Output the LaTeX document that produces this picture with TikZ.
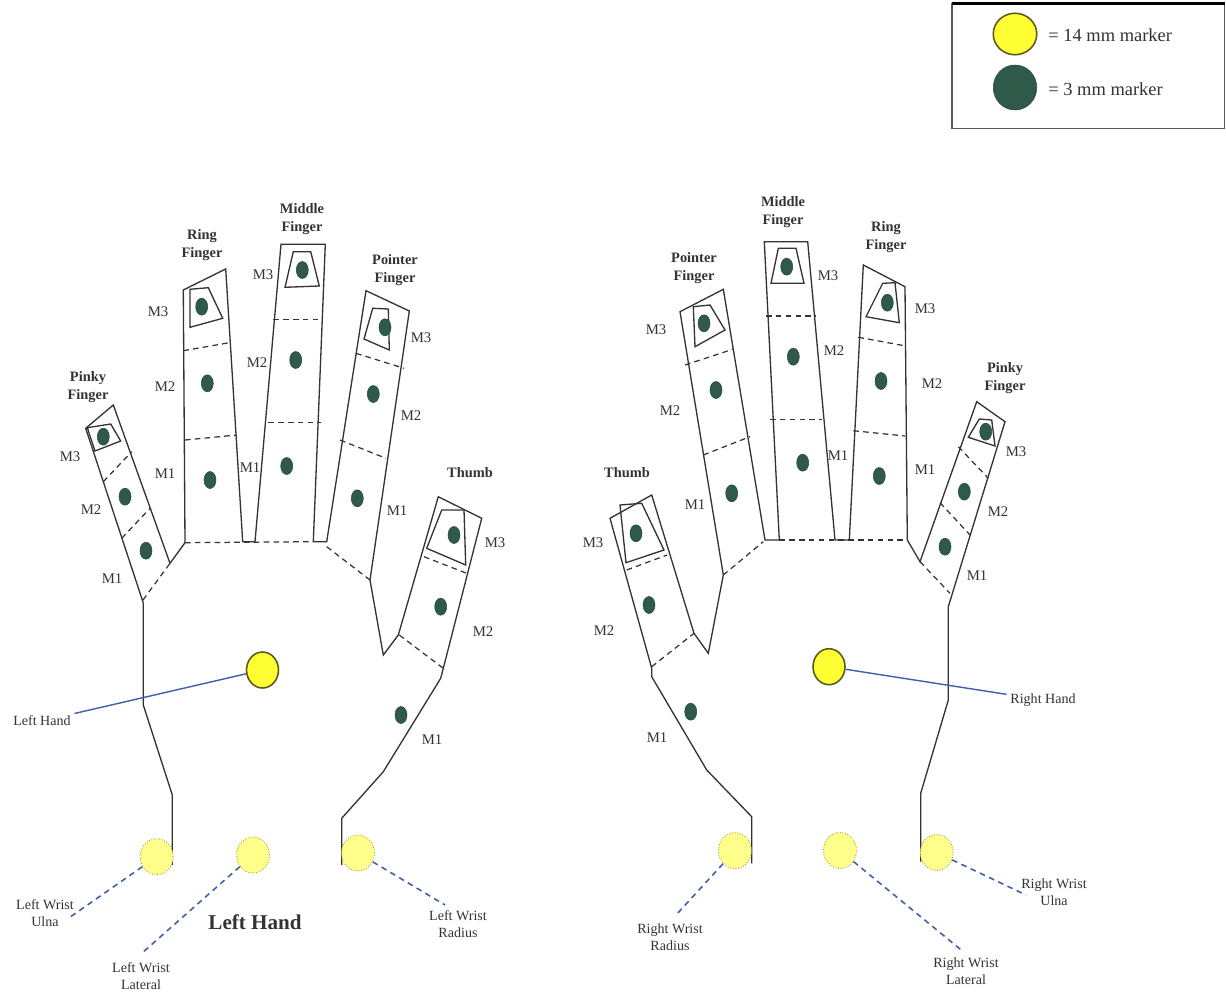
\documentclass[tikz,border=0pt]{standalone}
\usepackage{fontspec}
\setmainfont{Liberation Serif}
\usetikzlibrary{shapes.geometric}
\definecolor{bigyellow}{HTML}{FFFF33}
\definecolor{bigrim}{HTML}{5C5A1E}
\definecolor{paleyellow}{HTML}{FFFF8C}
\definecolor{dotrim}{HTML}{A8962E}
\definecolor{markgreen}{HTML}{2F5A4A}
\definecolor{linkblue}{HTML}{3F60A8}
\definecolor{inkgray}{HTML}{333333}
\tikzset{
  outline/.style={draw=inkgray, line width=0.75pt, line join=miter},
  seg/.style={draw=inkgray, line width=0.7pt, dash pattern=on 3.2pt off 2.4pt},
  dot/.style={ellipse, minimum width=0.24cm, minimum height=0.34cm, inner sep=0pt,
    fill=markgreen, draw=markgreen!80!black, line width=0.3pt},
  bigmark/.style={ellipse, minimum width=0.64cm, minimum height=0.72cm, inner sep=0pt,
    fill=bigyellow, draw=bigrim, line width=0.9pt},
  wristmark/.style={ellipse, minimum width=0.66cm, minimum height=0.72cm, inner sep=0pt,
    fill=paleyellow, draw=dotrim, densely dotted, line width=0.5pt},
  seglabel/.style={font=\fontsize{8.4}{9.6}\selectfont, text=inkgray, inner sep=1pt},
  fingerlabel/.style={font=\bfseries\fontsize{8.2}{10.2}\selectfont, text=inkgray,
    align=center, inner sep=1pt},
  sitelabel/.style={font=\fontsize{8}{9.6}\selectfont, text=inkgray, align=center, inner sep=2pt},
  solidlink/.style={draw=linkblue, line width=0.8pt},
  dashlink/.style={draw=linkblue, line width=0.9pt, dash pattern=on 3.2pt off 2.6pt},
  legendtext/.style={font=\fontsize{10.5}{12}\selectfont, text=inkgray, anchor=west, inner sep=0pt}
}
\begin{document}
\begin{tikzpicture}[x=0.02cm, y=-0.02cm]
\useasboundingbox (0,0) rectangle (1226,997);
\fill[white] (0,0) rectangle (1226,997);

% ---------- legend ----------
\draw[draw=gray!70!black, line width=0.9pt] (951.7,3.5) rectangle (1224.5,128.3);
\draw[black, line width=1.7pt] (951.7,3.5) -- (1224.5,3.5);
\node[bigmark, minimum width=0.87cm, minimum height=0.83cm] (legbig) at (1015,34) {};
\node[dot, minimum width=0.87cm, minimum height=0.9cm] (legsmall) at (1015,87.5) {};
\node[legendtext] (legbigtxt) at (1048,35) {= 14 mm marker};
\node[legendtext] (legsmalltxt) at (1048,89) {= 3 mm marker};

% ---------- left hand outline ----------
\draw[outline] (172.3,865) -- (172.3,795) -- (143.3,705) -- (143.3,603)
  -- (85.7,428.3) -- (113.3,405) -- (170,563.3) -- (185,542.7)
  -- (183.3,290) -- (225.7,269) -- (242.7,541.7) -- (255,541.7)
  -- (281,244.3) -- (325.3,244.3) -- (313.3,541.7) -- (326.7,541.7)
  -- (366,290.7) -- (409.3,311) -- (370,580) -- (383.3,655) -- (398.3,635)
  -- (438.3,496.7) -- (481.7,518.3) -- (443.3,668.3) -- (440.7,678.3)
  -- (383.3,771.7) -- (341.7,818.3) -- (341.7,865);
% marker cups at the finger tips
\draw[outline] (87.3,427.7) -- (110.7,424) -- (120.7,441) -- (95,451) -- cycle;
\draw[outline] (190,289.3) -- (208.3,287.7) -- (222.7,318.3) -- (190,327.3) -- cycle;
\draw[outline] (293.3,251.7) -- (310.7,251.7) -- (319.3,286) -- (285,287.3) -- cycle;
\draw[outline] (372.7,308.3) -- (388.3,309) -- (389.3,350) -- (364,339) -- cycle;
\draw[outline] (441.7,510) -- (464,510) -- (465.7,565) -- (426.7,548.3) -- cycle;
% joint lines
\draw[seg] (143,600) -- (170,563.3);
\draw[seg] (121.7,538.3) -- (150,508.3);
\draw[seg] (103.3,481.7) -- (131.7,451.7);
\draw[seg] (183.3,350.7) -- (231.7,342.3);
\draw[seg] (185,440) -- (236.7,435);
\draw[seg] (185,542.7) -- (313.3,541.7);
\draw[seg] (273.3,319.3) -- (323.3,319.3);
\draw[seg] (268.3,422.3) -- (320.7,422.3);
\draw[seg] (326.7,546.7) -- (370,580);
\draw[seg] (356,353.3) -- (404,368.3);
\draw[seg] (340,440) -- (386,458.3);
\draw[seg] (424,556.7) -- (466.7,573.3);
\draw[seg] (399.3,635) -- (443.3,668.3);

% ---------- right hand outline ----------
\draw[outline] (751.7,863.3) -- (751.7,816.7) -- (706.7,770) -- (651.7,676.7)
  -- (651.7,668.3) -- (610,518.3) -- (651.7,495) -- (694,633.3) -- (708.3,653.3)
  -- (723.3,575) -- (680,311.7) -- (723.3,289.3) -- (765,540) -- (779.3,540)
  -- (764.3,241.7) -- (807.7,241.7) -- (835,540) -- (849.3,540)
  -- (863.3,265) -- (905,286.7) -- (907.3,540) -- (920,561.7)
  -- (976.7,401.7) -- (1005,421.7) -- (948.3,606.7) -- (948.3,700)
  -- (920.7,793.3) -- (920.7,861.7);
\draw[outline] (620,505) -- (641.7,503.3) -- (664,550) -- (626,562.7) -- cycle;
\draw[outline] (693.3,306.7) -- (710,305) -- (725,330) -- (695,346.7) -- cycle;
\draw[outline] (778.3,248.3) -- (796,248.3) -- (804,283.3) -- (771,283.3) -- cycle;
\draw[outline] (882.7,283.3) -- (895,282.7) -- (899.3,322.7) -- (866,316.7) -- cycle;
\draw[outline] (979.3,419) -- (991.7,420) -- (995,446) -- (968.3,437.3) -- cycle;
\draw[seg] (626.7,570) -- (667,555);
\draw[seg] (651.7,666.7) -- (694,633.3);
\draw[seg] (723.3,575) -- (763.3,541.7);
\draw[seg] (685,365) -- (732.7,349.3);
\draw[seg] (703.3,455) -- (750,436.7);
\draw[seg] (766,316) -- (816,316);
\draw[seg] (770,419.3) -- (821.7,419.3);
\draw[seg] (779.3,540) -- (907.3,540);
\draw[seg] (858.3,337.3) -- (906,346);
\draw[seg] (853.3,430.7) -- (905,436);
\draw[seg] (958.3,446.7) -- (988.3,478.3);
\draw[seg] (940,502.7) -- (970,535);
\draw[seg] (920,561.7) -- (950,593.3);

% ---------- 3 mm markers ----------
\foreach \n/\x/\y in {
  lpk3/103.3/436.7, lpk2/125/496.7, lpk1/146/550.7,
  lrg3/201.7/306.7, lrg2/207.3/383.3, lrg1/210/480,
  lmd3/302.3/270, lmd2/295.7/360, lmd1/286.7/466,
  lpt3/385/327.3, lpt2/373.3/394, lpt1/357.3/498.3,
  lth3/454/535, lth2/440.7/606.7, lth1/401/715,
  rth3/636/533.3, rth2/649/605, rth1/690.7/711.7,
  rpt3/704/323.3, rpt2/716/390, rpt1/731.7/493.3,
  rmd3/786.7/266.7, rmd2/793.3/356.7, rmd1/802.7/462.7,
  rrg3/887.3/302.7, rrg2/881/381, rrg1/879.3/476,
  rpk3/985.7/431.7, rpk2/964.3/491.7, rpk1/945/546.7}
  \node[dot] (\n) at (\x,\y) {};

% ---------- segment labels ----------
\foreach \n/\x/\y/\t in {
  lpkL3/70/457/M3, lpkL2/91/510/M2, lpkL1/112/579/M1,
  lrgL3/158/312/M3, lrgL2/165/387/M2, lrgL1/165/474/M1,
  lmdL3/263/275/M3, lmdL2/257/363/M2, lmdL1/250/468/M1,
  lptL3/421/338/M3, lptL2/411/416/M2, lptL1/397/511/M1,
  lthL3/495/543/M3, lthL2/483/632/M2, lthL1/432/740/M1,
  rthL3/593/543/M3, rthL2/604/631/M2, rthL1/657/738/M1,
  rptL3/656/330/M3, rptL2/670/411/M2, rptL1/695/505/M1,
  rmdL3/828/276/M3, rmdL2/834/351/M2, rmdL1/838/456/M1,
  rrgL3/925/309/M3, rrgL2/932/384/M2, rrgL1/925/470/M1,
  rpkL3/1016/452/M3, rpkL2/998/512/M2, rpkL1/977/576/M1}
  \node[seglabel] (\n) at (\x,\y) {\t};

% ---------- finger names ----------
\node[fingerlabel] (lpkname) at (88,387) {Pinky\\Finger};
\node[fingerlabel] (lrgname) at (202,245) {Ring\\Finger};
\node[fingerlabel] (lmdname) at (302,219) {Middle\\Finger};
\node[fingerlabel] (lptname) at (395,270) {Pointer\\Finger};
\node[fingerlabel] (lthname) at (470,473) {Thumb};
\node[fingerlabel] (rptname) at (694,268) {Pointer\\Finger};
\node[fingerlabel] (rmdname) at (783,212) {Middle\\Finger};
\node[fingerlabel] (rrgname) at (886,237) {Ring\\Finger};
\node[fingerlabel] (rpkname) at (1005,378) {Pinky\\Finger};
\node[fingerlabel] (rthname) at (627,473) {Thumb};

% ---------- 14 mm markers ----------
\node[bigmark] (lhand) at (262.5,670) {};
\node[bigmark] (rhand) at (829,666.7) {};
\node[wristmark] (lwu) at (156.7,856.7) {};
\node[wristmark] (lwl) at (253,855) {};
\node[wristmark] (lwr) at (358,853) {};
\node[wristmark] (rwr) at (735,850.7) {};
\node[wristmark] (rwl) at (840,850.5) {};
\node[wristmark] (rwu) at (936.7,852.5) {};

% ---------- site names ----------
\node[sitelabel] (lhandlab) at (42,721) {Left Hand};
\node[sitelabel] (rhandlab) at (1043,700) {Right Hand};
\node[sitelabel] (lwulab) at (45,913) {Left Wrist\\Ulna};
\node[sitelabel] (lwllab) at (141,976) {Left Wrist\\Lateral};
\node[sitelabel] (lwrlab) at (458,924) {Left Wrist\\Radius};
\node[sitelabel] (rwrlab) at (670,937) {Right Wrist\\Radius};
\node[sitelabel] (rwllab) at (966,971) {Right Wrist\\Lateral};
\node[sitelabel] (rwulab) at (1054,892) {Right Wrist\\Ulna};
\node[font=\bfseries\fontsize{12}{14}\selectfont, text=inkgray] (title) at (255,922) {Left Hand};

% ---------- leader lines ----------
\coordinate (lwuend) at (68.3,918.3);
\coordinate (lwlend) at (141.7,953.3);
\coordinate (lwrend) at (445,905);
\coordinate (rwrend) at (676,915);
\coordinate (rwlend) at (963.3,951.7);
\coordinate (rwuend) at (1026,895);
\draw[solidlink] (lhand) -- (lhandlab);
\draw[solidlink] (rhand) -- (rhandlab);
\draw[dashlink] (lwu) -- (lwuend);
\draw[dashlink] (lwl) -- (lwlend);
\draw[dashlink] (lwr) -- (lwrend);
\draw[dashlink] (rwr) -- (rwrend);
\draw[dashlink] (rwl) -- (rwlend);
\draw[dashlink] (rwu) -- (rwuend);
\end{tikzpicture}
\end{document}
